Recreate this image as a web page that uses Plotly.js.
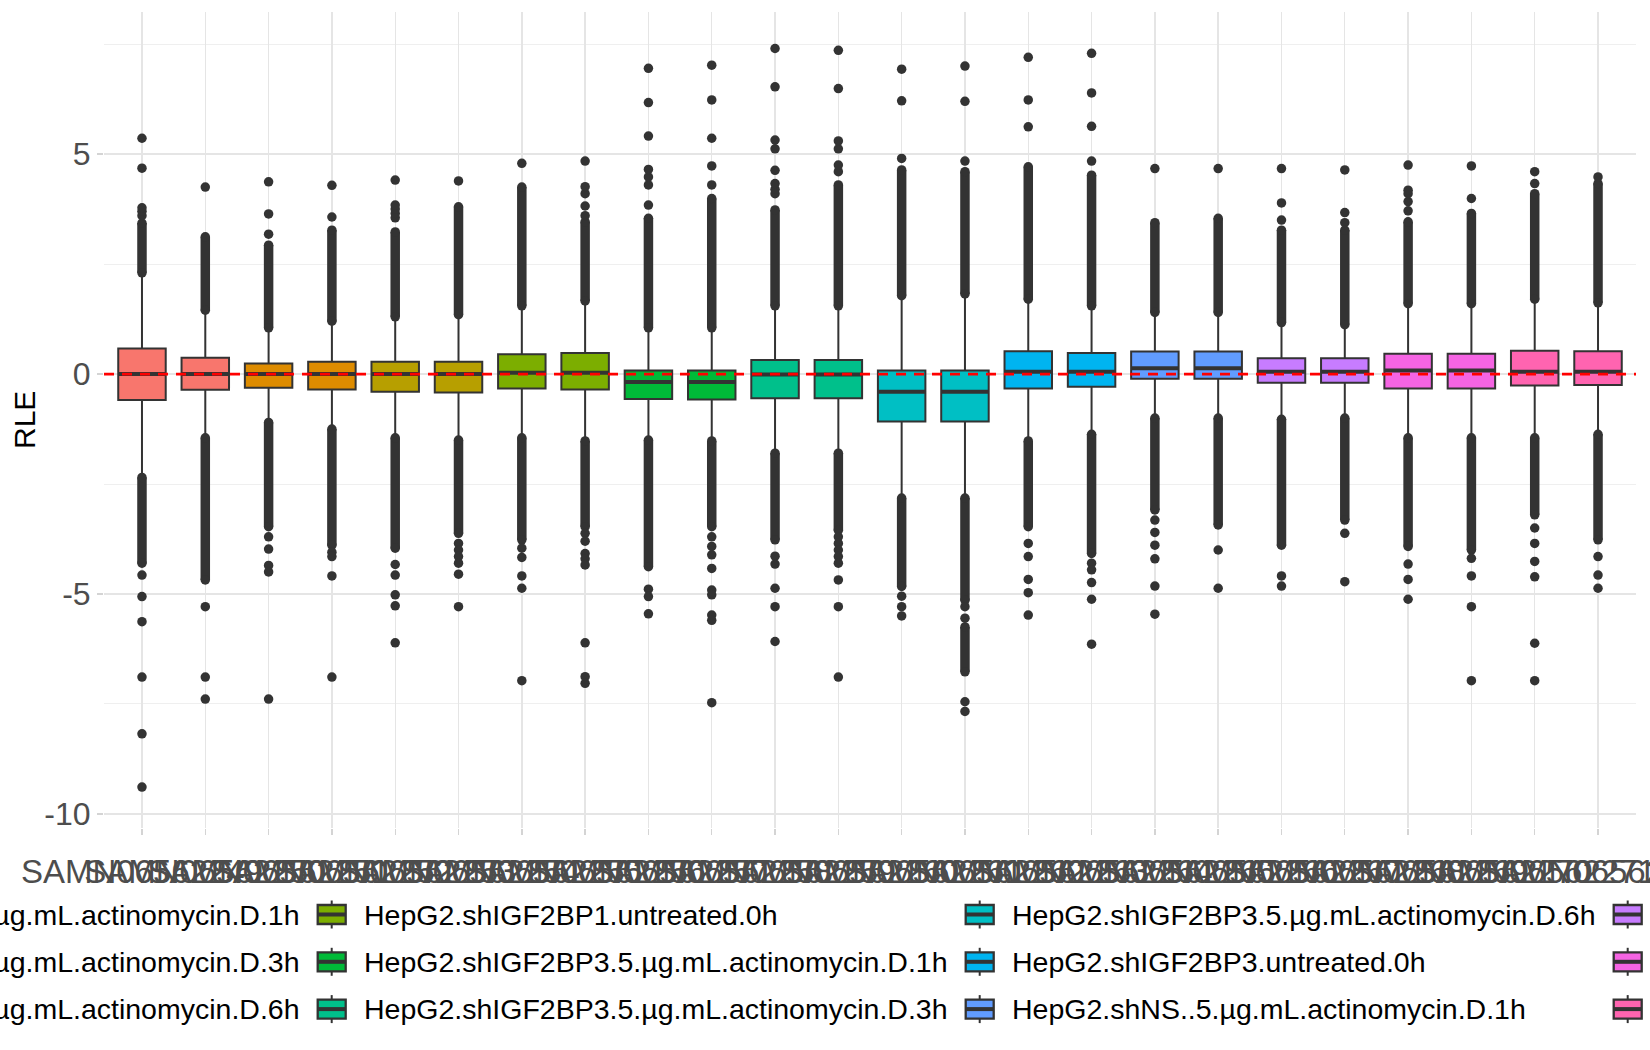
<!DOCTYPE html>
<html>
<head>
<meta charset="utf-8">
<script src="https://cdn.plot.ly/plotly-3.0.1.min.js"></script>
<style>
  body { margin: 0; background: #fff; }
  #rle { width: 1650px; height: 1050px; }
</style>
</head>
<body>
<div id="rle"></div>
<script>
// sample ids on the x axis, one box each
const samples = [
  'SAMN06562249', 'SAMN06562250', 'SAMN06562251', 'SAMN06562252',
  'SAMN06562253', 'SAMN06562254', 'SAMN06562255', 'SAMN06562256',
  'SAMN06562257', 'SAMN06562258', 'SAMN06562259', 'SAMN06562260',
  'SAMN06562261', 'SAMN06562262', 'SAMN06562263', 'SAMN06562264',
  'SAMN06562265', 'SAMN06562266', 'SAMN06562267', 'SAMN06562268',
  'SAMN06562269', 'SAMN06562270', 'SAMN06562271', 'SAMN06562272'
];

const groups = [
  'HepG2.shIGF2BP1.5.µg.mL.actinomycin.D.1h',
  'HepG2.shIGF2BP1.5.µg.mL.actinomycin.D.3h',
  'HepG2.shIGF2BP1.5.µg.mL.actinomycin.D.6h',
  'HepG2.shIGF2BP1.untreated.0h',
  'HepG2.shIGF2BP3.5.µg.mL.actinomycin.D.1h',
  'HepG2.shIGF2BP3.5.µg.mL.actinomycin.D.3h',
  'HepG2.shIGF2BP3.5.µg.mL.actinomycin.D.6h',
  'HepG2.shIGF2BP3.untreated.0h',
  'HepG2.shNS..5.µg.mL.actinomycin.D.1h',
  'HepG2.shNS..5.µg.mL.actinomycin.D.3h',
  'HepG2.shNS..5.µg.mL.actinomycin.D.6h',
  'HepG2.shNS.untreated.0h'
];

const groupColors = [
  '#F8766D', '#DE8C00', '#B79F00', '#7CAE00', '#00BA38', '#00C08B',
  '#00BFC4', '#00B4F0', '#619CFF', '#C77CFF', '#F564E3', '#FF64B0'
];

const sampleGroup = [0, 0, 1, 1, 2, 2, 3, 3, 4, 4, 5, 5, 6, 6, 7, 7, 8, 8, 9, 9, 10, 10, 11, 11];

// box statistics
const q3 = [0.58, 0.37, 0.24, 0.28, 0.28, 0.28, 0.45, 0.48, 0.08, 0.08, 0.32, 0.32,
            0.08, 0.08, 0.52, 0.48, 0.51, 0.51, 0.36, 0.36, 0.46, 0.46, 0.53, 0.52];
const med = [0.0, 0.0, 0.0, 0.0, 0.0, 0.0, 0.03, 0.03, -0.18, -0.18, -0.01, -0.01,
             -0.40, -0.40, 0.05, 0.05, 0.13, 0.13, 0.05, 0.05, 0.08, 0.08, 0.05, 0.05];
const q1 = [-0.59, -0.36, -0.31, -0.35, -0.40, -0.42, -0.33, -0.35, -0.57, -0.58, -0.55, -0.55,
            -1.08, -1.08, -0.33, -0.29, -0.11, -0.11, -0.20, -0.20, -0.33, -0.33, -0.26, -0.25];
const upperWhisker = [2.25, 1.38, 0.96, 1.11, 1.21, 1.27, 1.50, 1.61, 0.96, 0.96, 1.49, 1.49,
                      1.72, 1.76, 1.64, 1.49, 1.34, 1.34, 1.11, 1.07, 1.53, 1.53, 1.64, 1.56];
const lowerWhisker = [-2.30, -1.39, -1.05, -1.20, -1.39, -1.43, -1.39, -1.46, -1.44, -1.46, -1.73, -1.73,
                      -2.75, -2.75, -1.46, -1.31, -0.93, -0.93, -0.97, -0.93, -1.39, -1.39, -1.39, -1.31];

// stretches where the outlier dots pile into a solid column [from, to]
const denseRuns = [
  [[2.30, 3.43], [-2.35, -4.30]],
  [[1.45, 3.12], [-1.45, -4.68]],
  [[1.05, 2.93], [-1.10, -3.47]],
  [[1.20, 3.27], [-1.25, -3.89]],
  [[1.30, 3.23], [-1.45, -3.96]],
  [[1.35, 3.80], [-1.50, -3.62]],
  [[1.55, 4.25], [-1.45, -3.77]],
  [[1.66, 3.46], [-1.52, -3.47]],
  [[1.05, 3.54], [-1.50, -4.38]],
  [[1.05, 3.99], [-1.52, -3.47]],
  [[1.55, 3.73], [-1.80, -3.77]],
  [[1.55, 4.30], [-1.80, -3.55]],
  [[1.78, 4.64], [-2.82, -4.83]],
  [[1.82, 4.60], [-2.82, -5.14], [-5.75, -6.77]],
  [[1.70, 4.71], [-1.52, -3.47]],
  [[1.55, 4.52], [-1.37, -4.08]],
  [[1.40, 3.44], [-1.00, -3.09]],
  [[1.40, 3.54], [-1.00, -3.43]],
  [[1.17, 3.27], [-1.03, -3.89]],
  [[1.12, 3.27], [-1.00, -3.32]],
  [[1.60, 3.46], [-1.45, -3.92]],
  [[1.60, 3.65], [-1.45, -4.00]],
  [[1.70, 4.10], [-1.45, -3.20]],
  [[1.62, 4.33], [-1.37, -3.77]]
];

// single outlier dots
const outliers = [
  [3.60, 3.70, 3.78, 4.68, 5.36, -4.57, -5.06, -5.63, -6.89, -8.18, -9.39],
  [4.25, -5.29, -6.89, -7.39],
  [3.18, 3.64, 4.37, -3.70, -3.98, -4.35, -4.50, -7.39],
  [3.57, 4.29, -4.05, -4.15, -4.59, -6.89],
  [3.55, 3.65, 3.75, 3.84, 4.41, -4.33, -4.57, -5.02, -5.27, -6.11],
  [4.39, -3.85, -4.00, -4.15, -4.30, -4.55, -5.29],
  [4.79, -3.96, -4.17, -4.59, -4.87, -6.97],
  [3.60, 3.82, 4.10, 4.26, 4.84, -3.62, -3.80, -4.08, -4.20, -4.34, -6.11, -6.88, -7.03],
  [3.84, 4.30, 4.48, 4.65, 5.41, 6.17, 6.95, -4.89, -5.06, -5.45],
  [4.30, 4.73, 5.36, 6.23, 7.02, -3.70, -3.92, -4.11, -4.42, -4.91, -5.02, -5.48, -5.60, -7.47],
  [4.10, 4.20, 4.33, 4.63, 5.12, 5.32, 6.53, 7.40, -4.14, -4.32, -4.87, -5.29, -6.08],
  [4.60, 4.75, 5.12, 5.30, 6.49, 7.36, -3.70, -3.85, -4.00, -4.15, -4.30, -4.68, -5.29, -6.89],
  [4.90, 6.21, 6.93, -5.05, -5.29, -5.50],
  [4.84, 6.20, 7.00, -5.29, -5.55, -7.45, -7.67],
  [5.62, 6.23, 7.20, -3.85, -4.15, -4.67, -4.97, -5.48],
  [4.84, 5.63, 6.39, 7.29, -4.30, -4.45, -4.74, -5.12, -6.14],
  [4.67, -3.32, -3.60, -3.89, -4.20, -4.82, -5.46],
  [4.67, -4.00, -4.87],
  [3.50, 3.89, 4.67, -4.59, -4.82],
  [3.44, 3.67, 4.64, -3.62, -4.72],
  [3.71, 3.92, 4.10, 4.18, 4.75, -4.32, -4.67, -5.12],
  [3.99, 4.73, -4.19, -4.59, -5.29, -6.97],
  [4.33, 4.60, -3.50, -3.85, -4.26, -4.61, -6.12, -6.97],
  [4.48, -4.15, -4.57, -4.87]
];

const ink = '#333333';
const data = [];

groups.forEach((g, gi) => {
  const idx = [];
  sampleGroup.forEach((s, i) => { if (s === gi) idx.push(i); });
  data.push({
    type: 'box',
    name: g,
    x: idx.map(i => samples[i]),
    q1: idx.map(i => q1[i]),
    median: idx.map(i => med[i]),
    q3: idx.map(i => q3[i]),
    lowerfence: idx.map(i => lowerWhisker[i]),
    upperfence: idx.map(i => upperWhisker[i]),
    boxpoints: false,
    width: 0.75,
    whiskerwidth: 0,
    fillcolor: groupColors[gi],
    line: {color: ink, width: 2},
    hoverinfo: 'skip',
    showlegend: false
  });
});

// thick median bars like ggplot draws them (line-ew length is 1.4 x size)
data.push({
  type: 'scatter',
  mode: 'markers',
  x: samples,
  y: med,
  marker: {symbol: 'line-ew', size: 33.5, color: ink, line: {color: ink, width: 4}},
  hoverinfo: 'skip',
  showlegend: false
});

const rx = [];
const ry = [];
denseRuns.forEach((runs, i) => {
  runs.forEach(r => {
    rx.push(samples[i], samples[i], null);
    ry.push(r[0], r[1], null);
  });
});
data.push({
  type: 'scatter',
  mode: 'lines+markers',
  x: rx,
  y: ry,
  line: {color: ink, width: 9.5},
  marker: {color: ink, size: 9.5},
  hoverinfo: 'skip',
  showlegend: false
});

const ox = [];
const oy = [];
outliers.forEach((pts, i) => {
  pts.forEach(v => { ox.push(samples[i]); oy.push(v); });
});
data.push({
  type: 'scatter',
  mode: 'markers',
  x: ox,
  y: oy,
  marker: {color: ink, size: 9.5},
  hoverinfo: 'skip',
  showlegend: false
});

// plot area in pixels: x 104..1636, y 12..828
const L = 104, R = 1636, T = 12, B = 828;
const px = p => (p - L) / (R - L);
const py = p => (B - p) / (B - T);

const shapes = [{
  type: 'line', xref: 'paper', yref: 'y',
  x0: 0, x1: 1, y0: 0, y1: 0,
  line: {color: '#FF0000', width: 2.8, dash: '10px,8px'},
  layer: 'above'
}];
const annotations = [{
  text: 'RLE', xref: 'paper', yref: 'paper',
  x: px(24), y: py((T + B) / 2), xanchor: 'center', yanchor: 'middle',
  textangle: -90, showarrow: false,
  font: {size: 30, color: '#000000'}
}];

// ggplot style legend, 3 rows filled column by column, wider than the page
groups.forEach((g, gi) => {
  const col = Math.floor(gi / 3);
  const row = gi % 3;
  const cx = 331.7 + 648 * (col - 1);
  const cy = 914.5 + 47.3 * row;
  shapes.push({
    type: 'line', xref: 'paper', yref: 'paper',
    x0: px(cx), x1: px(cx), y0: py(cy - 14), y1: py(cy + 14),
    line: {color: ink, width: 2}, layer: 'above'
  });
  shapes.push({
    type: 'rect', xref: 'paper', yref: 'paper',
    x0: px(cx - 14), x1: px(cx + 14), y0: py(cy - 9.5), y1: py(cy + 9.5),
    fillcolor: groupColors[gi], line: {color: ink, width: 2.3}, layer: 'above'
  });
  shapes.push({
    type: 'line', xref: 'paper', yref: 'paper',
    x0: px(cx - 14), x1: px(cx + 14), y0: py(cy), y1: py(cy),
    line: {color: ink, width: 4}, layer: 'above'
  });
  annotations.push({
    text: g, xref: 'paper', yref: 'paper',
    x: px(cx + 30), y: py(cy), xanchor: 'left', yanchor: 'middle',
    showarrow: false,
    font: {size: 28.5, color: '#000000'}
  });
});

const layout = {
  width: 1650,
  height: 1050,
  paper_bgcolor: '#ffffff',
  plot_bgcolor: '#ffffff',
  font: {family: 'Liberation Sans, Arial, sans-serif', color: '#4D4D4D'},
  margin: {l: L, r: 1650 - R, t: T, b: 1050 - B, autoexpand: false},
  showlegend: false,
  boxmode: 'overlay',
  xaxis: {
    type: 'category',
    categoryorder: 'array',
    categoryarray: samples,
    range: [-0.6, 23.6],
    tickmode: 'array',
    tickvals: samples,
    ticktext: samples,
    tickangle: 0,
    ticklabelstandoff: 8,
    showgrid: true,
    gridcolor: '#E5E5E5',
    gridwidth: 1.4,
    ticks: 'outside',
    ticklen: 6,
    tickwidth: 1.4,
    tickcolor: '#D4D4D4',
    tickfont: {size: 33, color: '#4D4D4D'},
    zeroline: false,
    showline: false,
    automargin: false,
    fixedrange: true
  },
  yaxis: {
    range: [-10.32, 8.23],
    tickmode: 'array',
    tickvals: [-10, -5, 0, 5],
    ticktext: ['-10', '-5', '0', '5'],
    showgrid: true,
    gridcolor: '#E5E5E5',
    gridwidth: 1.4,
    minor: {
      tickmode: 'array',
      tickvals: [-7.5, -2.5, 2.5, 7.5],
      showgrid: true,
      gridcolor: '#EFEFEF',
      gridwidth: 1,
      ticks: ''
    },
    ticks: 'outside',
    ticklen: 6,
    tickwidth: 1.4,
    tickcolor: '#D4D4D4',
    tickfont: {size: 32, color: '#4D4D4D'},
    zeroline: false,
    showline: false,
    automargin: false,
    fixedrange: true
  },
  shapes: shapes,
  annotations: annotations
};

Plotly.newPlot('rle', data, layout, {staticPlot: true});
</script>
</body>
</html>
